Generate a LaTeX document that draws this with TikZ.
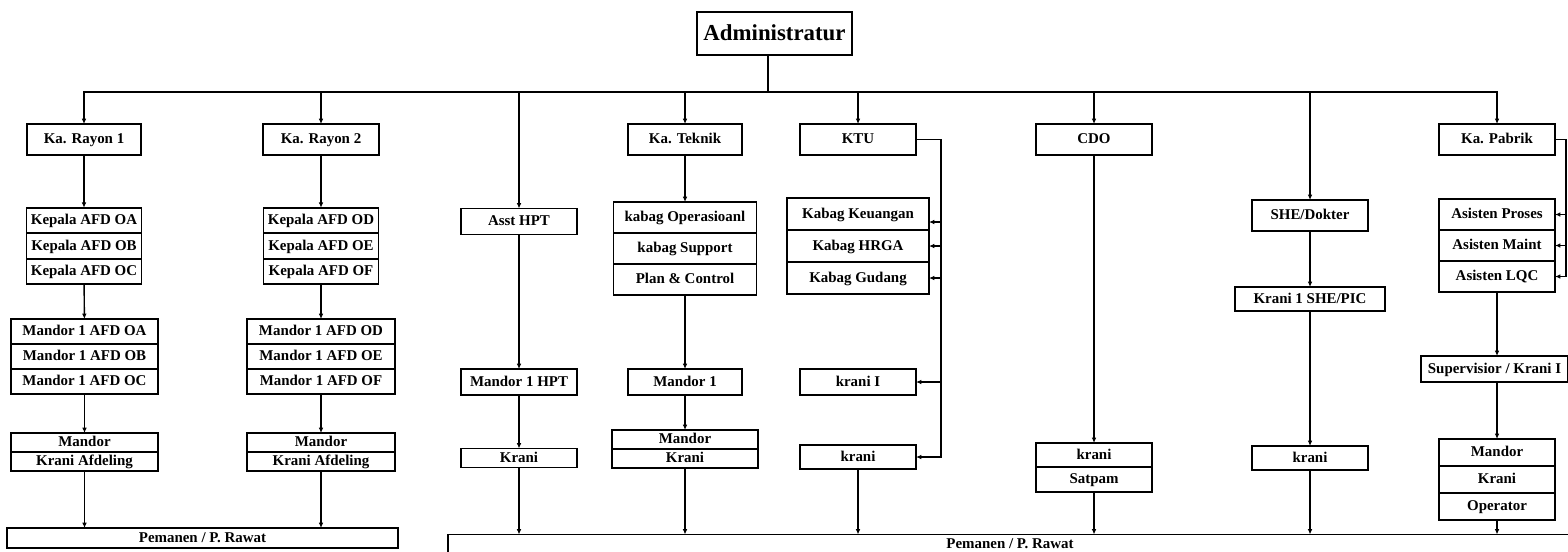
\documentclass[tikz,border=0pt]{standalone}
\usepackage{fontspec}
\setmainfont{Liberation Serif}
\usepackage{tikz}
\usetikzlibrary{arrows.meta,positioning}
\newdimen\pxu \pxu=0.02cm

\begin{document}
\begin{tikzpicture}[x=0.02cm, y=-0.02cm,
    font=\bfseries\fontsize{8.5}{10}\selectfont,
    wd/.style={minimum width=#1\pxu}, ht/.style={minimum height=#1\pxu}]
    \tikzstyle{box}=[draw, line width=1pt, fill=white, inner sep=0pt, outer sep=0pt,
      minimum width=116\pxu, minimum height=31\pxu, text height=6pt, text depth=0.9pt]
    \tikzstyle{arr}=[-{Latex[length=3pt,width=2.6pt]}, line width=0.8pt]
    \useasboundingbox (0,0) rectangle (1568,551);

    \node[box, wd=155, ht=43, font=\bfseries\fontsize{13}{15}\selectfont,
      text height=9pt, text depth=1.6pt] (admin) at (774.5,33.5) {Administratur};
    \coordinate (top) at (768,92);

    \node[box, wd=114] (rayon1) at (84,139.5) {Ka. Rayon 1};
    \node[box] (rayon2) at (321,139.5) {Ka. Rayon 2};
    \node[box, wd=114] (teknik) at (685,139.5) {Ka. Teknik};
    \node[box] (ktu) at (858,139.5) {KTU};
    \node[box] (cdo) at (1094,139.5) {CDO};
    \node[box] (pabrik) at (1497,139.5) {Ka. Pabrik};

    % rayon 1
    \node[box, wd=115, ht=25.5] (oa) at (84,220.5) {Kepala AFD OA};
    \node[box, wd=115, ht=25.5, below=0pt of oa] (ob) {Kepala AFD OB};
    \node[box, wd=115, ht=25.5, below=0pt of ob] (oc) {Kepala AFD OC};
    \node[box, wd=147, ht=25] (moa) at (84.5,331.5) {Mandor 1 AFD OA};
    \node[box, wd=147, ht=25, below=0pt of moa] (mob) {Mandor 1 AFD OB};
    \node[box, wd=147, ht=25, below=0pt of mob] (moc) {Mandor 1 AFD OC};
    \node[box, wd=147, ht=19] (mafd1) at (84.5,442.5) {Mandor};
    \node[box, wd=147, ht=19, below=0pt of mafd1] (kafd1) {Krani Afdeling};
    \node[box, wd=391, ht=20] (pem1) at (202.5,538) {Pemanen / P. Rawat};

    % rayon 2
    \node[box, wd=115, ht=25.5] (od) at (321,220.5) {Kepala AFD OD};
    \node[box, wd=115, ht=25.5, below=0pt of od] (oe) {Kepala AFD OE};
    \node[box, wd=115, ht=25.5, below=0pt of oe] (of) {Kepala AFD OF};
    \node[box, wd=148, ht=25] (mod) at (321,331.5) {Mandor 1 AFD OD};
    \node[box, wd=148, ht=25, below=0pt of mod] (moe) {Mandor 1 AFD OE};
    \node[box, wd=148, ht=25, below=0pt of moe] (mof) {Mandor 1 AFD OF};
    \node[box, wd=148, ht=19] (mafd2) at (321,442.5) {Mandor};
    \node[box, wd=148, ht=19, below=0pt of mafd2] (kafd2) {Krani Afdeling};

    % hpt
    \node[box, ht=26] (asst) at (519,221.5) {Asst HPT};
    \node[box, ht=26] (mhpt) at (519,382) {Mandor 1 HPT};
    \node[box, ht=19] (khpt) at (519,458) {Krani};

    % teknik
    \node[box, wd=143] (ops) at (685,217.5) {kabag Operasioanl};
    \node[box, wd=143, below=0pt of ops] (support) {kabag Support};
    \node[box, wd=143, below=0pt of support] (plan) {Plan \& Control};
    \node[box, wd=114, ht=26] (mandor1) at (685,382) {Mandor 1};
    \node[box, wd=146, ht=19] (tmandor) at (685,439.5) {Mandor};
    \node[box, wd=146, ht=19, below=0pt of tmandor] (tkrani) {Krani};

    % ktu
    \node[box, wd=142, ht=32] (keu) at (858,214) {Kabag Keuangan};
    \node[box, wd=142, ht=32, below=0pt of keu] (hrga) {Kabag HRGA};
    \node[box, wd=142, ht=32, below=0pt of hrga] (gudang) {Kabag Gudang};
    \node[box, ht=26] (kranii) at (858,382) {krani I};
    \node[box, ht=24] (kkrani) at (858,457) {krani};
    \coordinate (ktuside) at (941,457);

    % cdo
    \node[box, ht=24] (ckrani) at (1094,455) {krani};
    \node[box, ht=25, below=0pt of ckrani] (satpam) {Satpam};

    % she
    \node[box] (she) at (1310,215.5) {SHE/Dokter};
    \node[box, wd=150, ht=24] (shepic) at (1310,299) {Krani 1 SHE/PIC};
    \node[box, ht=24] (skrani) at (1310,458) {krani};

    % pabrik
    \node[box] (proses) at (1497,214.5) {Asisten Proses};
    \node[box, below=0pt of proses] (maint) {Asisten Maint};
    \node[box, below=0pt of maint] (lqc) {Asisten LQC};
    \coordinate (pside) at (1566,277);
    \node[box, wd=147, ht=26] (superv) at (1494.5,369) {Supervisior / Krani I};
    \node[box, ht=27] (pmandor) at (1497,452.5) {Mandor};
    \node[box, ht=27, below=0pt of pmandor] (pkrani) {Krani};
    \node[box, ht=27, below=0pt of pkrani] (operator) {Operator};

    \node[box, wd=1124, ht=20] (pem2) at (1010,544.5) {Pemanen / P. Rawat};

    % connectors
    \draw[line width=0.8pt] (admin.south -| top) -- (top);
    \draw[arr] (top) -| (rayon1);
    \draw[arr] (top) -| (rayon2);
    \draw[arr] (top) -| (asst);
    \draw[arr] (top) -| (teknik);
    \draw[arr] (top) -| (ktu);
    \draw[arr] (top) -| (cdo);
    \draw[arr] (top) -| (she);
    \draw[arr] (top) -| (pabrik);

    \draw[arr] (rayon1) -- (oa);
    \draw[arr] (oc) -- (moa);
    \draw[arr] (moc) -- (mafd1);
    \draw[arr] (kafd1) -- (kafd1 |- pem1.north);
    \draw[arr] (rayon2) -- (od);
    \draw[arr] (of) -- (mod);
    \draw[arr] (mof) -- (mafd2);
    \draw[arr] (kafd2) -- (kafd2 |- pem1.north);

    \draw[arr] (asst) -- (mhpt);
    \draw[arr] (mhpt) -- (khpt);
    \draw[arr] (khpt) -- (khpt |- pem2.north);

    \draw[arr] (teknik) -- (ops);
    \draw[arr] (plan) -- (mandor1);
    \draw[arr] (mandor1) -- (tmandor);
    \draw[arr] (tkrani) -- (tkrani |- pem2.north);

    \draw[arr] (ktu.east) -| (ktuside) -- (kkrani.east);
    \draw[arr] ([yshift=-8\pxu]keu.east -| ktuside) -- ([yshift=-8\pxu]keu.east);
    \draw[arr] (hrga.east -| ktuside) -- (hrga.east);
    \draw[arr] (gudang.east -| ktuside) -- (gudang.east);
    \draw[arr] (kranii.east -| ktuside) -- (kranii.east);
    \draw[arr] (kkrani) -- (kkrani |- pem2.north);

    \draw[arr] (cdo) -- (ckrani);
    \draw[arr] (satpam) -- (satpam |- pem2.north);

    \draw[arr] (she) -- (shepic);
    \draw[arr] (shepic) -- (skrani);
    \draw[arr] (skrani) -- (skrani |- pem2.north);

    \draw[line width=0.8pt] (pabrik.east) -| (pside);
    \draw[arr] (proses.east -| pside) -- (proses.east);
    \draw[arr] (maint.east -| pside) -- (maint.east);
    \draw[arr] (lqc.east -| pside) -- (lqc.east);
    \draw[arr] (lqc) -- (lqc |- superv.north);
    \draw[arr] (superv.south -| pmandor) -- (pmandor);
    \draw[arr] (operator) -- (operator |- pem2.north);
  \end{tikzpicture}
\end{document}
